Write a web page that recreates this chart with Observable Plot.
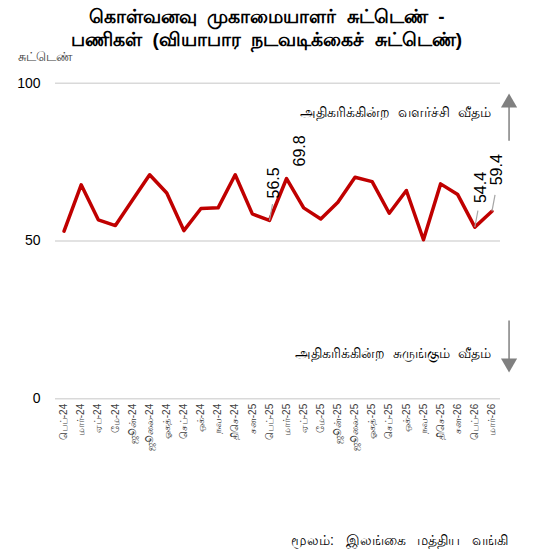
<!DOCTYPE html>
<html><head><meta charset="utf-8">
<script src="https://cdn.jsdelivr.net/npm/d3@7"></script>
<script src="https://cdn.jsdelivr.net/npm/@observablehq/plot@0.6"></script>
<style>
body{margin:0;background:#fff;}
#wrap{position:relative;width:533px;height:556px;font-family:"Liberation Sans",Arial,sans-serif;color:#000;}
#title{position:absolute;left:0;top:5px;width:533px;text-align:center;font-weight:bold;font-size:19px;line-height:23px;}
#ylab{position:absolute;left:18px;top:49px;font-size:13px;color:#404040;}
#cap{position:absolute;right:25px;top:532px;font-size:14px;}
#chart{position:absolute;left:0;top:0;}
</style></head>
<body>
<div id="wrap">
<div id="chart"></div>
<div id="title"></div>
<div id="ylab"></div>
<div id="cap"></div>
</div>
<script>
const titleLines = ["கொள்வனவு முகாமையாளர் சுட்டெண் -","பணிகள் (வியாபார நடவடிக்கைச் சுட்டெண்)"];
const yLabel = "சுட்டெண்";
const caption = "மூலம்: இலங்கை மத்திய வங்கி";
const months = ["பெப்-24","மார்-24","ஏப்-24","மே-24","ஜூன்-24","ஜூலை-24","ஓகத்-24","செப்-24","ஒக்-24","நவ-24","திசெ-24","சன-25","பெப்-25","மார்-25","ஏப்-25","மே-25","ஜூன்-25","ஜூலை-25","ஓகத்-25","செப்-25","ஒக்-25","நவ-25","திசெ-25","சன-26","பெப்-26","மார்-26"];
const values = [53.1,67.8,56.7,54.9,63.0,71.0,65.2,53.3,60.3,60.5,71.0,58.6,56.5,69.8,60.5,57.0,62.3,70.2,68.8,58.8,66.0,50.4,68.1,64.7,54.4,59.4];
const labelled = [12,13,24,25];
const yTicks = [0,50,100];
const upText = "அதிகரிக்கின்ற வளர்ச்சி வீதம்";
const downText = "அதிகரிக்கின்ற சுருங்கும் வீதம்";

const sp = (s,n) => s.split(" ").join("\u00A0".repeat(n));
document.getElementById("title").innerHTML = titleLines.map(l=>sp(l,2)).join("<br>");
document.getElementById("ylab").textContent = yLabel;
document.getElementById("cap").textContent = sp(caption,3);

const data = months.map((m,i)=>({i, m, v: values[i]}));
const ann = labelled.map(i => data[i]);
const offs = [{dx:4,dy:-22,lead:true},{dx:13,dy:-12,lead:false},{dx:6,dy:-24,lead:true},{dx:5,dy:-26,lead:true}];

const annMarks = ann.flatMap((d,k) => {
  const o = offs[k];
  const ms = [Plot.text([d],{x:"i",y:"v",text:d=>d.v.toFixed(1),rotate:-90,textAnchor:"start",lineAnchor:"middle",dx:o.dx,dy:o.dy,fontSize:16,fill:"#000"})];
  if (o.lead) ms.unshift(Plot.link([d],{x1:"i",y1:"v",x2:d=>d.i+0.18,y2:d=>d.v+5.2,stroke:"#a6a6a6",strokeWidth:1.2}));
  return ms;
});

const arrowX = 26;
const chart = Plot.plot({
  width:533, height:556,
  marginTop:82.7, marginBottom:157.7, marginLeft:55, marginRight:33,
  style:{fontFamily:"'Liberation Sans', Arial, sans-serif", color:"#000", background:"transparent"},
  x:{type:"linear", domain:[-0.5,25.5]},
  y:{domain:[0,100]},
  marks:[
    Plot.ruleY(yTicks,{stroke:"#d9d9d9",strokeWidth:1.5}),
    Plot.axisY(yTicks,{tickSize:0,tickPadding:15,fontSize:14,label:null,fill:"#000"}),
    Plot.axisX(d3.range(months.length),{tickSize:0,tickRotate:-90,tickFormat:i=>months[i],tickPadding:5,fontSize:10,label:null,fill:"#404040"}),
    Plot.line(data,{x:"i",y:"v",stroke:"#C00000",strokeWidth:3.5}),
    ...annMarks,
    Plot.link([0],{x1:arrowX,x2:arrowX,y1:81.8,y2:93,stroke:"#808080",strokeWidth:1.5}),
    Plot.dot([0],{x:arrowX,y:93.8,symbol:"triangle",r:6,fill:"#808080",stroke:null}),
    Plot.link([0],{x1:arrowX,x2:arrowX,y1:24.8,y2:11.5,stroke:"#808080",strokeWidth:1.5}),
    Plot.dot([0],{x:arrowX,y:11.3,symbol:"triangle",r:6,rotate:180,fill:"#808080",stroke:null}),
    Plot.text([sp(upText,2)],{x:24.92,y:90.7,text:d=>d,textAnchor:"end",fontSize:14,fill:"#000"}),
    Plot.text([sp(downText,2)],{x:24.92,y:14.35,text:d=>d,textAnchor:"end",fontSize:14,fill:"#000"})
  ]
});
document.getElementById("chart").appendChild(chart);
</script>
</body></html>
